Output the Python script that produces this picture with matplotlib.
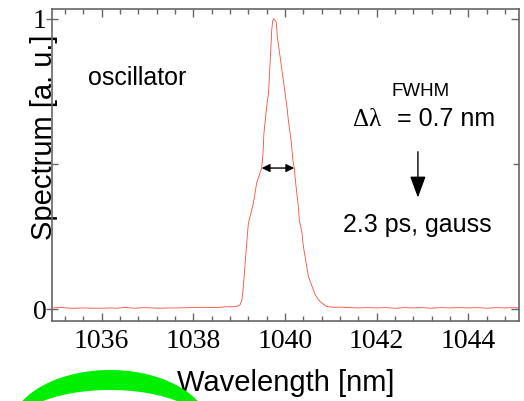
import matplotlib
matplotlib.use("Agg")
import matplotlib.pyplot as plt
from matplotlib.patches import PathPatch
from matplotlib.path import Path
import numpy as np

# ---- data ----
wavelength = [1034.95, 1035.1, 1035.3, 1035.45, 1035.6, 1035.8, 1036.0, 1036.2, 1036.35,
              1036.5, 1036.7, 1036.9, 1037.1, 1037.3, 1037.5, 1037.7, 1037.9, 1038.1,
              1038.3, 1038.5, 1038.7, 1038.85, 1038.95,
              1039.02, 1039.06, 1039.09, 1039.13, 1039.17, 1039.20, 1039.22, 1039.31,
              1039.38, 1039.44, 1039.49, 1039.52, 1039.54, 1039.57, 1039.60, 1039.64,
              1039.67, 1039.70, 1039.71, 1039.73, 1039.75, 1039.78, 1039.81, 1039.83,
              1039.88, 1039.93, 1039.98, 1040.04, 1040.07, 1040.13, 1040.17, 1040.20,
              1040.24, 1040.29, 1040.31, 1040.37, 1040.40, 1040.46, 1040.51, 1040.59,
              1040.66, 1040.73, 1040.80, 1040.91, 1041.06, 1041.20,
              1041.4, 1041.6, 1041.8, 1042.0, 1042.2, 1042.4, 1042.6, 1042.8, 1043.0,
              1043.2, 1043.4, 1043.6, 1043.8, 1044.0, 1044.2, 1044.4, 1044.6, 1044.8,
              1045.0, 1045.1]
spectrum = [0.004, 0.006, 0.003, 0.003, 0.004, 0.003, 0.003, 0.004, 0.003,
            0.006, 0.003, 0.005, 0.004, 0.003, 0.004, 0.004, 0.005, 0.006,
            0.006, 0.005, 0.008, 0.008, 0.010,
            0.015, 0.032, 0.078, 0.160, 0.239, 0.297, 0.308, 0.366,
            0.434, 0.463, 0.486, 0.538, 0.607, 0.653, 0.699, 0.745,
            0.837, 0.929, 0.963, 0.992, 1.000, 0.995, 0.988, 0.940,
            0.883, 0.826, 0.768, 0.699, 0.653, 0.584, 0.515, 0.486,
            0.423, 0.354, 0.308, 0.262, 0.216, 0.159, 0.112, 0.078,
            0.049, 0.032, 0.021, 0.009, 0.006, 0.007,
            0.005, 0.004, 0.005, 0.004, 0.005, 0.003, 0.005, 0.004, 0.005,
            0.003, 0.005, 0.004, 0.005, 0.004, 0.005, 0.003, 0.005, 0.004,
            0.005, 0.004]

xticks = [1036, 1038, 1040, 1042, 1044]
xtick_labels = ["1036", "1038", "1040", "1042", "1044"]
yticks = [0, 1]
ytick_labels = ["0", "1"]

fwhm_left, fwhm_right, fwhm_level = 1039.49, 1040.20, 0.486
arrow_x, arrow_top, arrow_bottom = 1042.9, 0.542, 0.384

# ---- figure ----
W, H = 524, 401
fig = plt.figure(figsize=(W / 100, H / 100), dpi=100)
ax = fig.add_axes([52.3 / W, 1 - 320.7 / H, (518.7 - 52.3) / W, (320.7 - 9) / H])

ax.plot(wavelength, spectrum, color="#ff4a38", lw=0.6, solid_joinstyle="round")

ax.set_xlim(1034.92, 1045.1)
ax.set_ylim(-0.04, 1.034)

spine_c = "#666666"
for s in ax.spines.values():
    s.set_color(spine_c)
    s.set_linewidth(1.2)

ax.set_xticks(xticks)
ax.set_xticklabels(xtick_labels, family="Liberation Serif", fontsize=20)
ax.set_xticks(np.arange(1035.2, 1045.1, 0.4), minor=True)
ax.set_yticks(yticks)
ax.set_yticklabels(ytick_labels, family="Liberation Serif", fontsize=20)
ax.set_yticks([0.5], minor=True)

ax.tick_params(axis="x", which="major", direction="in", length=5.5, width=1,
               color=spine_c, top=True, pad=6)
ax.tick_params(axis="x", which="minor", direction="in", length=3.5, width=1,
               color=spine_c, top=True)
ax.tick_params(axis="y", which="major", direction="inout", length=8, width=1,
               color=spine_c, right=False, pad=0)
ax.tick_params(axis="y", which="minor", direction="in", length=4.5, width=1,
               color=spine_c, right=True)
# right spine ticks at 0 and 1 (inward)
ax2 = ax.secondary_yaxis("right")
ax2.set_yticks(yticks)
ax2.set_yticklabels([])
ax2.tick_params(direction="in", length=5.5, width=1, color=spine_c)
ax2.spines["right"].set_visible(False)

ax.set_xlabel("Wavelength [nm]", family="Liberation Sans", fontsize=21)
ax.xaxis.set_label_coords(0.5, -0.155)
ax.set_ylabel("Spectrum [a. u.]", family="Liberation Sans", fontsize=21)
ax.yaxis.set_label_coords(0.012, 0.59)

# annotations
ax.text(1035.70, 0.773, "oscillator", family="Liberation Sans", fontsize=18,
        ha="left", va="baseline")
ax.text(1042.32, 0.733, "FWHM", family="Liberation Sans", fontsize=13.5,
        ha="left", va="baseline")
ax.text(1041.48, 0.632, "\u0394\u03bb", family="Liberation Serif", fontsize=18,
        ha="left", va="baseline")
ax.text(1042.45, 0.632, "= 0.7 nm", family="Liberation Sans", fontsize=18,
        ha="left", va="baseline")
ax.text(1041.27, 0.266, "2.3 ps, gauss", family="Liberation Sans", fontsize=18,
        ha="left", va="baseline")

ax.annotate("", xy=(fwhm_left, fwhm_level), xytext=(fwhm_right, fwhm_level),
            arrowprops=dict(arrowstyle="<|-|>", color="black", lw=1,
                            mutation_scale=12, shrinkA=0, shrinkB=0))
ax.annotate("", xy=(arrow_x, arrow_bottom), xytext=(arrow_x, arrow_top),
            arrowprops=dict(arrowstyle="-|>,head_length=0.6,head_width=0.22",
                            color="black", lw=1,
                            mutation_scale=22, shrinkA=0, shrinkB=0))

# green arc at bottom-left (pixel geometry -> figure fraction)
cx, cy = 110, 430
t_out = np.linspace(np.pi, 0, 100)
t_in = np.linspace(0, np.pi, 100)
ox = cx + 100 * np.cos(t_out); oy = cy - 60 * np.sin(t_out)
ix = cx + 97 * np.cos(t_in); iy = cy - 40 * np.sin(t_in)
px = np.concatenate([ox, ix]); py = np.concatenate([oy, iy])
verts = np.column_stack([px / W, 1 - py / H])
path = Path(np.vstack([verts, verts[:1]]),
            [Path.MOVETO] + [Path.LINETO] * (len(verts) - 1) + [Path.CLOSEPOLY])
fig.patches.append(PathPatch(path, transform=fig.transFigure, facecolor="#00ee00",
                             edgecolor="none", zorder=0))

fig.savefig("out.png", dpi=100)
